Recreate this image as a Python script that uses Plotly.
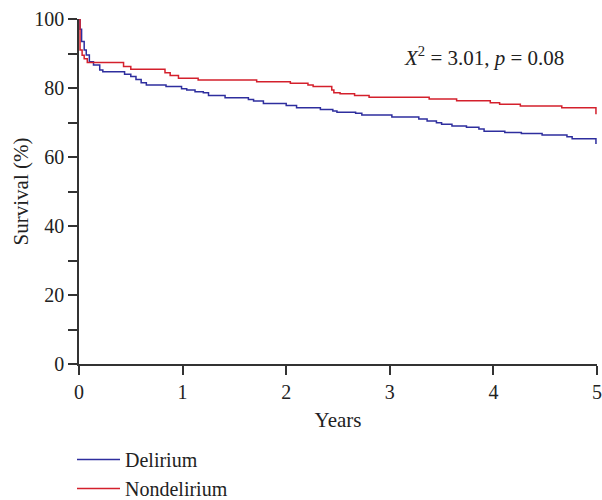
import plotly.graph_objects as go

# Delirium (blue) step times (years) and survival (%)
delirium_t = [0, 0.01, 0.025, 0.05, 0.07, 0.1, 0.14, 0.2, 0.23, 0.44, 0.5, 0.55, 0.6, 0.65,
              0.84, 0.99, 1.04, 1.12, 1.2, 1.25, 1.41, 1.635, 1.685, 1.78, 2.0, 2.1, 2.33,
              2.45, 2.49, 2.67, 2.73, 3.02, 3.28, 3.36, 3.45, 3.5, 3.6, 3.74, 3.86, 3.91,
              4.11, 4.27, 4.47, 4.71, 4.76, 4.99]
delirium_s = [100, 97, 93.5, 91, 89.6, 87.6, 86.7, 85.2, 84.7, 84.0, 83.3, 82.5, 81.5, 80.9,
              80.4, 79.8, 79.4, 78.9, 78.6, 77.8, 77.2, 76.7, 76.2, 75.5, 74.9, 74.3, 73.8,
              73.3, 73.0, 72.7, 72.2, 71.6, 71.0, 70.4, 69.9, 69.5, 69.0, 68.6, 68.1, 67.5,
              67.1, 66.8, 66.4, 65.9, 65.3, 63.8]

# Nondelirium (red)
nondel_t = [0, 0.01, 0.03, 0.05, 0.08, 0.43, 0.5, 0.83, 0.88, 0.96, 1.15, 1.715, 2.04, 2.21,
            2.26, 2.44, 2.46, 2.52, 2.66, 2.8, 3.38, 3.645, 3.97, 4.06, 4.26, 4.66, 4.99]
nondel_s = [100, 91, 89.5, 88.5, 87.4, 86.2, 85.4, 84.4, 83.6, 82.8, 82.3, 81.8, 81.4, 80.9,
            80.4, 79.4, 78.6, 78.3, 77.8, 77.3, 76.8, 76.3, 75.7, 75.3, 74.8, 74.3, 72.4]

x_ticks = [0, 1, 2, 3, 4, 5]
y_ticks = [0, 20, 40, 60, 80, 100]
y_minor = [10, 30, 50, 70, 90]

FONT = "Liberation Serif"
AX = "#333333"
TXT = "#222222"

fig = go.Figure()
fig.add_trace(go.Scatter(x=delirium_t, y=delirium_s, mode="lines", name="Delirium",
                         line=dict(color="#2e2e9e", width=1.5, shape="hv")))
fig.add_trace(go.Scatter(x=nondel_t, y=nondel_s, mode="lines", name="Nondelirium",
                         line=dict(color="#d4202c", width=1.5, shape="hv")))

fig.add_annotation(x=3.91, y=89, xref="x", yref="y", showarrow=False,
                   text="<i>X</i><sup>2</sup> = 3.01, <i>p</i> = 0.08",
                   font=dict(family=FONT, size=21, color=TXT))

fig.update_xaxes(range=[0, 5], tickvals=x_ticks, showline=True, linecolor=AX, linewidth=1.5,
                 ticks="outside", ticklen=9, tickwidth=1.5, tickcolor=AX, showgrid=False,
                 zeroline=False, automargin=False,
                 title=dict(text="Years", standoff=11, font=dict(family=FONT, size=21, color=TXT)),
                 tickfont=dict(family=FONT, size=20, color=TXT))
fig.update_yaxes(range=[0, 100], tickvals=y_ticks, showline=True, linecolor=AX, linewidth=1.5,
                 ticks="outside", ticklen=9, tickwidth=1.5, tickcolor=AX, showgrid=False,
                 zeroline=False, automargin=False,
                 title=dict(text="Survival (%)", standoff=0, font=dict(family=FONT, size=21, color=TXT)),
                 minor=dict(tickvals=y_minor, ticks="outside", ticklen=9,
                            tickwidth=1.5, tickcolor=AX),
                 tickfont=dict(family=FONT, size=20, color=TXT))

fig.update_layout(
    width=602, height=500,
    margin=dict(l=79, r=5, t=19, b=136, autoexpand=False),
    plot_bgcolor="white", paper_bgcolor="white",
    font=dict(family=FONT, size=20, color=TXT),
    showlegend=True,
    legend=dict(x=-0.0135, y=-0.22, xanchor="left", yanchor="top", orientation="v",
                font=dict(family=FONT, size=20, color=TXT), bgcolor="rgba(0,0,0,0)",
                itemwidth=43, tracegroupgap=0),
)

fig.write_html("out.html", config={"displayModeBar": False},
               post_script="document.body.style.margin='0px';")
